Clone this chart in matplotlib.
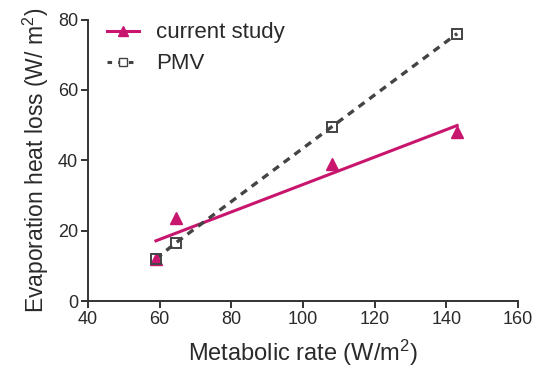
import numpy as np
import matplotlib
matplotlib.use("Agg")
import matplotlib.pyplot as plt
from matplotlib.lines import Line2D

plt.rcParams['font.family'] = ['Liberation Sans', 'DejaVu Sans']
plt.rcParams['mathtext.default'] = 'regular'

metabolic = [59, 64.5, 108, 143]
current_study = [12, 23.5, 39, 48]
pmv = [12, 16.5, 49.5, 76]
x_ticks = [40, 60, 80, 100, 120, 140, 160]
y_ticks = [0, 20, 40, 60, 80]

magenta = '#C8166E'
gray = '#444444'
txt = '#2a2a2a'

fig = plt.figure(figsize=(5.42, 3.83), dpi=100)
ax = fig.add_axes([0.162, 0.214, 0.794, 0.735])

slope, intercept = np.polyfit(metabolic, current_study, 1)
xfit = np.array([min(metabolic), max(metabolic)])
ax.plot(xfit, slope * xfit + intercept, color=magenta, lw=2.2, zorder=2)
ax.plot(metabolic, pmv, color=gray, lw=2.4, ls=(0, (2.2, 1.8)), zorder=2)
ax.plot(metabolic, current_study, ls='none', marker='^', ms=8.5, color=magenta, zorder=3)
ax.plot(metabolic, pmv, ls='none', marker='s', ms=6.5, mfc='none', mec=gray, mew=1.4, zorder=4)

h1 = Line2D([], [], color=magenta, lw=2.2, marker='^', ms=7)
h2 = Line2D([], [], color=gray, lw=2.2, ls=(0, (1.5, 2)), marker='s', ms=5.5, mfc='white', mec=gray)
ax.legend([h1, h2], ['current study', 'PMV'], loc='upper left', bbox_to_anchor=(0.045, 0.99),
          borderaxespad=0, borderpad=0, frameon=False, fontsize=16,
          handlelength=1.45, handletextpad=0.75, labelspacing=0.45, labelcolor=txt)

ax.set_xlim(40, 160)
ax.set_ylim(0, 80)
ax.set_xticks(x_ticks)
ax.set_yticks(y_ticks)
ax.spines['top'].set_visible(False)
ax.spines['right'].set_visible(False)
for s in ['left', 'bottom']:
    ax.spines[s].set_linewidth(1.4)
    ax.spines[s].set_color('#333333')
ax.tick_params(direction='out', length=5, width=1.4, labelsize=13, colors='#333333',
               labelcolor=txt, pad=2)
ax.set_xlabel('Metabolic rate (W/m$^2$)', fontsize=17, color=txt, labelpad=7)
ax.set_ylabel('Evaporation heat loss (W/ m$^2$)', fontsize=16.5, color=txt, labelpad=5)

fig.savefig('out.png', dpi=100)
